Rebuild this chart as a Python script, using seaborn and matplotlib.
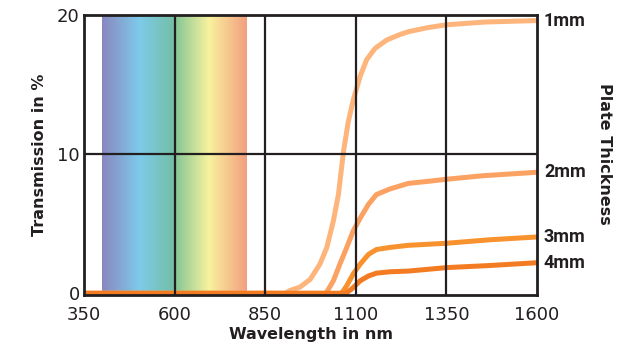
"""
Transmission of a filter glass plate for several plate thicknesses
"""

import numpy as np
import pandas as pd
import seaborn as sns
import matplotlib.pyplot as plt
from matplotlib.colors import LinearSegmentedColormap

# wavelength (nm) and transmission (%), one curve per thickness
wl_1mm = [350, 905, 918, 946, 974, 1001, 1020, 1038, 1052, 1066, 1079, 1093, 1112,
          1130, 1153, 1185, 1222, 1245, 1300, 1351, 1460, 1600]
tr_1mm = [0, 0, 0.2, 0.45, 1.0, 2.1, 3.3, 5.2, 7.1, 10.2, 12.3, 13.9, 15.6,
          16.8, 17.6, 18.2, 18.6, 18.8, 19.1, 19.3, 19.5, 19.6]

wl_2mm = [350, 1015, 1020, 1038, 1056, 1075, 1093, 1112, 1135, 1157, 1194, 1245,
          1300, 1351, 1450, 1600]
tr_2mm = [0, 0, 0.1, 0.9, 2.1, 3.3, 4.5, 5.4, 6.4, 7.1, 7.5, 7.9,
          8.05, 8.2, 8.45, 8.7]

wl_3mm = [350, 1058, 1062, 1075, 1093, 1112, 1135, 1157, 1194, 1245, 1351, 1470, 1600]
tr_3mm = [0, 0, 0.05, 0.55, 1.4, 2.1, 2.8, 3.15, 3.3, 3.45, 3.6, 3.85, 4.05]

wl_4mm = [350, 1068, 1075, 1088, 1112, 1135, 1157, 1194, 1245, 1351, 1470, 1600]
tr_4mm = [0, 0, 0.05, 0.3, 0.9, 1.25, 1.45, 1.55, 1.6, 1.85, 2.0, 2.2]

thickness = ["1mm", "2mm", "3mm", "4mm"]
colors = ["#FDB57C", "#FBA262", "#F7922E", "#F37B22"]

x_ticks = [350, 600, 850, 1100, 1350, 1600]
y_ticks = [0, 10, 20]

# visible spectrum band behind the grid
spectrum_range = (400, 800)
spectrum_stops = [(0.0, "#8A87C0"), (0.26, "#7DCBEA"), (0.49, "#74BFA8"),
                  (0.52, "#8CC996"), (0.74, "#F8F29E"), (1.0, "#F39F80")]


def build_frame() -> pd.DataFrame:
    parts = []
    for label, wl, tr in zip(thickness,
                             [wl_1mm, wl_2mm, wl_3mm, wl_4mm],
                             [tr_1mm, tr_2mm, tr_3mm, tr_4mm]):
        parts.append(pd.DataFrame({"Wavelength": wl, "Transmission": tr,
                                   "Thickness": label}))
    return pd.concat(parts, ignore_index=True)


def plot() -> None:
    df = build_frame()
    sns.set_style("white")
    plt.rcParams["font.family"] = ["DejaVu Sans"]

    fig = plt.figure(figsize=(6.38, 3.49), dpi=100)
    ax = fig.add_axes([0.1317, 0.1547, 0.71, 0.8023])

    cmap = LinearSegmentedColormap.from_list("spectrum", spectrum_stops)
    grad = np.linspace(0, 1, 256).reshape(1, -1)
    ax.imshow(grad, cmap=cmap, aspect="auto", zorder=0,
              extent=[spectrum_range[0], spectrum_range[1], 0, 20])

    sns.lineplot(data=df, x="Wavelength", y="Transmission", hue="Thickness",
                 hue_order=thickness, palette=colors, lw=3.6, legend=False,
                 sort=False, estimator=None, ax=ax, zorder=2)
    for line in ax.lines:
        line.set_clip_on(False)
        line.set_solid_capstyle("butt")
        line.set_solid_joinstyle("round")

    # grid sits on top of the curves, as in the original
    for xv in x_ticks[1:-1]:
        ax.axvline(xv, color="#231F20", lw=1.6, zorder=3)
    ax.axhline(10, color="#231F20", lw=1.6, zorder=3)

    ax.set_xlim(350, 1600)
    ax.set_ylim(-0.12, 20)
    ax.set_xticks(x_ticks)
    ax.set_yticks(y_ticks)
    ax.tick_params(axis="both", length=0, labelsize=13, colors="#231F20")
    ax.tick_params(axis="x", pad=8)
    ax.tick_params(axis="y", pad=3)
    for s in ax.spines.values():
        s.set_visible(True)
        s.set_color("#231F20")
        s.set_linewidth(2)
        s.set_zorder(3.5)

    ax.set_xlabel("Wavelength in nm", fontsize=11.5, fontweight="bold",
                  color="#231F20", labelpad=2)
    ax.set_ylabel("Transmission in %", fontsize=11.5, fontweight="bold",
                  color="#231F20", labelpad=7)

    for label, tr in zip(thickness, [tr_1mm, tr_2mm, tr_3mm, tr_4mm]):
        ax.annotate(label, xy=(1600, tr[-1]), xytext=(5, 0),
                    textcoords="offset points", va="center", ha="left",
                    fontsize=13, fontweight="bold",
                    family=["Roboto", "DejaVu Sans"],
                    color="#231F20", annotation_clip=False)

    fig.text(0.948, 0.56, "Plate Thickness", rotation=270, fontsize=11.5,
             fontweight="bold", color="#231F20", ha="center", va="center")

    plt.savefig("out.png", dpi=100)


if __name__ == "__main__":
    plot()
